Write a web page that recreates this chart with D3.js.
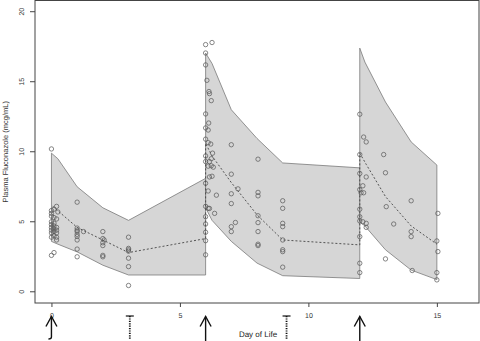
<!DOCTYPE html>
<html><head><meta charset="utf-8">
<script src="https://cdn.jsdelivr.net/npm/d3@7"></script>
<style>body{margin:0;background:#fff}svg{display:block;font-family:"Liberation Sans",Arial,sans-serif;-webkit-font-smoothing:antialiased}text{text-rendering:geometricPrecision}</style>
</head><body><svg id="c" width="480" height="341"></svg>
<script>
// ---- data ----
const xTicks = [0, 5, 10, 15];
const yTicks = [0, 5, 10, 15, 20];
const xLabel = "Day of Life";
const yLabel = "Plasma Fluconazole (mcg/mL)";

// prediction band segments (90% interval), one per dosing interval
const seg1Days = [0, 0.25, 1, 2, 3, 6];
const seg1Upper = [9.9, 9.5, 7.5, 6.0, 5.1, 8.1];
const seg1Lower = [3.6, 3.4, 2.85, 1.9, 1.2, 1.2];
const seg2Days = [6, 6.25, 7, 8, 9, 12];
const seg2Upper = [17.05, 16.3, 13.0, 10.95, 9.2, 8.85];
const seg2Lower = [6.0, 5.1, 3.6, 2.05, 1.15, 0.95];
const seg3Days = [12, 12.2, 13, 14, 15];
const seg3Upper = [17.4, 16.4, 13.55, 10.7, 9.05];
const seg3Lower = [5.0, 4.7, 3.0, 1.55, 0.87];

// median prediction (dashed)
const medDays = [0.05, 1, 2, 3, 6, 6, 6.25, 7, 8, 9, 12, 12, 12.25, 13, 14, 15];
const medVals = [6.1, 4.6, 3.7, 2.8, 3.8, 10.6, 9.7, 7.8, 5.5, 3.7, 3.35, 9.9, 9.1, 6.8, 4.7, 3.4];

// observed concentrations
const obsDay = [
  0,0,0,0,0,0,0,0,0,0,0,
  0.1,0.1,0.1,0.1,0.1,0.1,0.1,0.1,
  0.2,0.25,0.2,0.2,0.2,0.2,0.2,0.2,
  1,1,1,1,1,1,1,1,1,1.25,
  2,2,2.05,2,2,2,2,
  3,3,3,3,3,3,3,
  6,6.25,6,6,6.05,6.13,6.15,6.22,6,6.12,6,6.1,6,6.1,6.2,6.27,6,6,6.15,6.22,6.22,6.1,6.3,6.25,6.15,6,6.1,6.42,6,6.15,6.35,6,6,6,6,6,6.1,
  7,7,7,7.26,7,7,7.16,7,
  8.04,8.04,8.04,8.04,8.04,8.04,8.04,8.04,
  9,9,9,9,9,9,9,9,
  12,12.15,12.25,12,12,12.25,12.12,12,12.05,12.15,12,12,12,12.12,12.25,12.25,12,12,12,
  12.93,13,13.03,13.32,13,
  14,14,14,14.04,
  15.04,15,15.04,15,15
];
const obsConc = [
  10.2,5.8,5.6,5.4,5.0,4.8,4.6,4.4,4.2,3.9,2.6,
  5.9,5.3,4.9,4.7,4.5,4.3,4.0,2.8,
  6.1,5.7,5.2,4.6,4.4,4.2,3.9,3.7,
  6.4,4.55,4.4,4.3,4.1,3.95,3.7,3.05,2.5,4.3,
  4.3,3.8,3.7,3.5,3.3,2.6,2.5,
  3.9,3.1,3.0,2.9,2.4,1.8,0.45,
  17.65,17.8,17.05,16.2,15.1,14.3,14.15,13.65,12.7,12.05,11.7,11.55,10.9,10.65,10.55,9.9,9.7,9.3,9.3,9.5,9.0,8.97,8.9,8.25,8.2,7.75,7.2,6.9,6.1,5.95,5.6,5.36,4.84,4.25,3.65,2.64,5.96,
  10.5,8.4,7.0,7.35,6.3,4.65,4.95,4.3,
  9.47,7.1,6.85,5.43,4.94,4.3,3.4,3.3,
  6.5,5.96,4.89,4.65,3.7,3.0,2.87,1.76,
  12.68,11.05,10.7,9.8,8.45,8.2,7.57,7.3,7.07,7.07,5.9,5.36,5.06,5.0,4.89,4.6,3.94,2.04,1.37,
  9.8,8.5,6.08,4.84,2.35,
  6.5,4.3,3.94,1.52,
  5.6,3.63,2.87,1.37,0.85
];

// dosing annotations below the axis
const doseDays = [0, 6, 12];      // solid arrows
const levelDays = [3.05, 9.15];   // dotted markers

// ---- drawing ----
const svg = d3.select("#c");
const L = 35, R = 479, T = 0.5, B = 303;
const x = d3.scaleLinear().domain([-0.64, 16.64]).range([L, R]);
const y = d3.scaleLinear().domain([-0.8, 20.8]).range([B, T]);
const axisCol = "#444", textCol = "#333";

const area = d3.area().x(d => x(d[0])).y0(d => y(d[2])).y1(d => y(d[1]));
const segs = [[seg1Days, seg1Upper, seg1Lower],[seg2Days, seg2Upper, seg2Lower],[seg3Days, seg3Upper, seg3Lower]];
segs.forEach(([ds, up, lo]) => {
  const pts = ds.map((d, i) => [d, up[i], lo[i]]);
  svg.append("path").datum(pts).attr("d", area)
    .attr("fill", "#d6d6d6").attr("stroke", "#7a7a7a").attr("stroke-width", 0.8);
});

const line = d3.line().x(d => x(d[0])).y(d => y(d[1]));
svg.append("path").datum(medDays.map((d, i) => [d, medVals[i]]))
  .attr("d", line).attr("fill", "none").attr("stroke", "#444")
  .attr("stroke-width", 0.9).attr("stroke-dasharray", "2,2");

svg.append("g").selectAll("circle").data(obsDay.map((d, i) => [d, obsConc[i]]))
  .join("circle").attr("cx", d => x(d[0])).attr("cy", d => y(d[1])).attr("r", 2.2)
  .attr("fill", "none").attr("stroke", "#555").attr("stroke-width", 0.7);

// box
svg.append("rect").attr("x", L).attr("y", T).attr("width", R - L).attr("height", B - T)
  .attr("fill", "none").attr("stroke", axisCol).attr("stroke-width", 1);

// y axis
const gy = svg.append("g").attr("transform", `translate(${L},0)`)
  .call(d3.axisLeft(y).tickValues(yTicks).tickSize(5).tickPadding(9));
gy.select(".domain").remove();
gy.selectAll("line").attr("stroke", axisCol);
gy.selectAll("text").attr("fill", textCol).style("font-size", "7px")
  .attr("text-anchor", "middle").attr("dy", null)
  .attr("transform", d => `translate(-13,${y(d)}) rotate(-90)`).attr("x", 0).attr("y", 0)
  .attr("dominant-baseline", "middle");
gy.selectAll(".tick").attr("transform", "translate(0,0)");
gy.selectAll(".tick line").attr("y1", d => y(d)).attr("y2", d => y(d));

// x axis
const gx = svg.append("g").attr("transform", `translate(0,${B})`)
  .call(d3.axisBottom(x).tickValues(xTicks).tickSize(4).tickPadding(6));
gx.select(".domain").remove();
gx.selectAll("line").attr("stroke", axisCol);
gx.selectAll("text").attr("fill", textCol).style("font-size", "7px");

svg.append("text").attr("x", 258).attr("y", 337).attr("text-anchor", "middle")
  .attr("fill", "#222").style("font-size", "8px").text(xLabel);
svg.append("text").attr("transform", `translate(8,${(T + B) / 2}) rotate(-90)`)
  .attr("text-anchor", "middle").attr("fill", textCol).style("font-size", "7.5px").text(yLabel);

// dose arrows
const tipY = 316.5;
doseDays.forEach((d, i) => {
  const cx = x(d);
  const g = svg.append("g").attr("stroke", "#111").attr("stroke-width", 1.4).attr("fill", "none");
  g.append("path").attr("d", i === 0
      ? `M${cx},${tipY} L${cx},337 Q${cx},339 ${cx - 3},339`
      : `M${cx},${tipY} L${cx},341`);
  g.append("path").attr("d", `M${cx - 5.5},${tipY + 10} L${cx},${tipY} L${cx + 5.5},${tipY + 10}`);
});
levelDays.forEach(d => {
  const cx = x(d);
  const g = svg.append("g").attr("stroke", "#111").attr("fill", "none");
  g.append("line").attr("x1", cx - 4).attr("x2", cx + 4).attr("y1", 316).attr("y2", 316).attr("stroke-width", 1.2);
  g.append("line").attr("x1", cx).attr("x2", cx).attr("y1", 316).attr("y2", 339)
    .attr("stroke-width", 1.8).attr("stroke-dasharray", "1.2,1.2");
});
</script></body></html>
